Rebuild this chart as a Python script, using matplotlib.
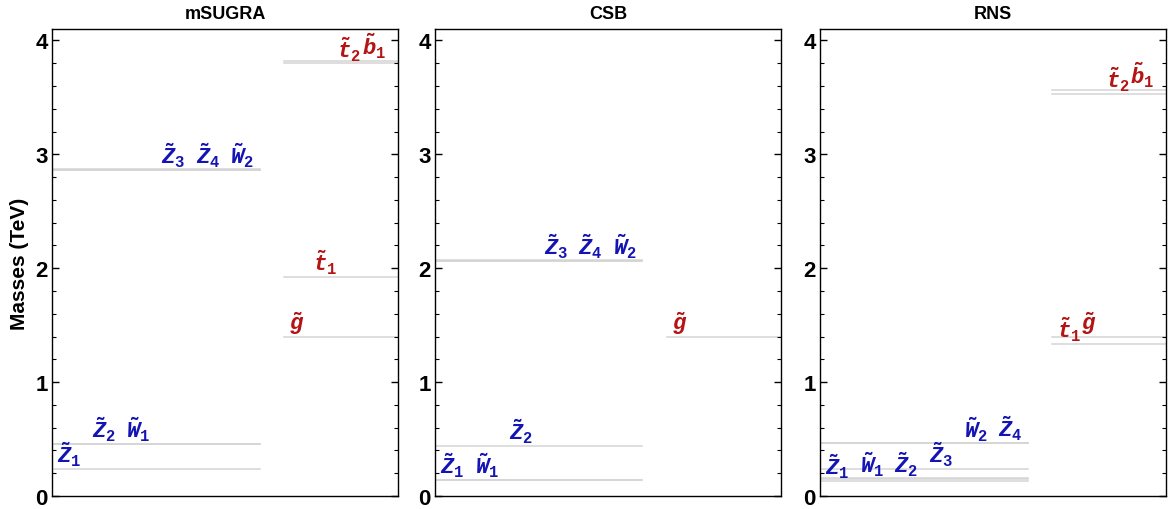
import matplotlib
matplotlib.use("Agg")
import matplotlib.pyplot as plt
from matplotlib.ticker import MultipleLocator

plt.rcParams['font.family'] = ['Liberation Sans', 'DejaVu Sans']
plt.rcParams['mathtext.fontset'] = 'custom'
plt.rcParams['mathtext.rm'] = 'Liberation Mono:bold'
plt.rcParams['mathtext.it'] = 'Liberation Mono:italic:bold'

# model names
models = ["mSUGRA", "CSB", "RNS"]

# electroweakinos (left block), ordered as labelled left to right
ew_labels = [
    [r"$\tilde{Z}_1$", r"$\tilde{Z}_2$", r"$\tilde{W}_1$", r"$\tilde{Z}_3$", r"$\tilde{Z}_4$", r"$\tilde{W}_2$"],
    [r"$\tilde{Z}_1$", r"$\tilde{W}_1$", r"$\tilde{Z}_2$", r"$\tilde{Z}_3$", r"$\tilde{Z}_4$", r"$\tilde{W}_2$"],
    [r"$\tilde{Z}_1$", r"$\tilde{W}_1$", r"$\tilde{Z}_2$", r"$\tilde{Z}_3$", r"$\tilde{W}_2$", r"$\tilde{Z}_4$"],
]
ew_masses = [
    [0.237, 0.457, 0.459, 2.862, 2.866, 2.868],
    [0.141, 0.142, 0.440, 2.064, 2.066, 2.068],
    [0.135, 0.150, 0.155, 0.237, 0.463, 0.468],
]

# coloured sparticles (right block)
sq_labels = [
    [r"$\tilde{g}$", r"$\tilde{t}_1$", r"$\tilde{t}_2$", r"$\tilde{b}_1$"],
    [r"$\tilde{g}$"],
    [r"$\tilde{t}_1$", r"$\tilde{g}$", r"$\tilde{t}_2$", r"$\tilde{b}_1$"],
]
sq_masses = [
    [1.398, 1.925, 3.800, 3.820],
    [1.398],
    [1.335, 1.400, 3.531, 3.566],
]

blue = "#1414b4"
red = "#b41414"
line_col = "#d4d4d4"

fig = plt.figure(figsize=(11.69, 5.10), dpi=100)
lefts = [0.0445, 0.372, 0.7015]

for i, name in enumerate(models):
    ax = fig.add_axes([lefts[i], 0.0255, 0.296, 0.9157])
    ax.set_xlim(0, 1)
    ax.set_ylim(0, 4.1)

    for k, (lab, m) in enumerate(zip(ew_labels[i], ew_masses[i])):
        ax.plot([0, 0.6], [m, m], color=line_col, lw=1.1, zorder=1)
        ax.text(0.015 + 0.1 * k, m + 0.005, lab, color=blue, fontsize=16,
                ha="left", va="bottom")
    for k, (lab, m) in enumerate(zip(sq_labels[i], sq_masses[i])):
        ax.plot([0.67, 1.0], [m, m], color=line_col, lw=1.1, zorder=1)
        ax.text(0.685 + 0.07 * k, m + 0.005, lab, color=red, fontsize=16,
                ha="left", va="bottom")

    ax.set_title(name, fontsize=13, fontweight="bold", pad=8)
    ax.set_xticks([])
    ax.yaxis.set_major_locator(MultipleLocator(1))
    ax.yaxis.set_minor_locator(MultipleLocator(0.2))
    ax.tick_params(axis="y", which="both", direction="in", left=True, right=True,
                   labelsize=16, pad=3)
    ax.tick_params(axis="y", which="major", length=5, width=1)
    ax.tick_params(axis="y", which="minor", length=3, width=0.8)
    for t in ax.get_yticklabels():
        t.set_fontweight("bold")
    for s in ax.spines.values():
        s.set_linewidth(1.0)
    if i == 0:
        ax.set_ylabel("Masses (TeV)", fontsize=15, fontweight="bold", labelpad=5)

fig.savefig("out.png", dpi=100)
